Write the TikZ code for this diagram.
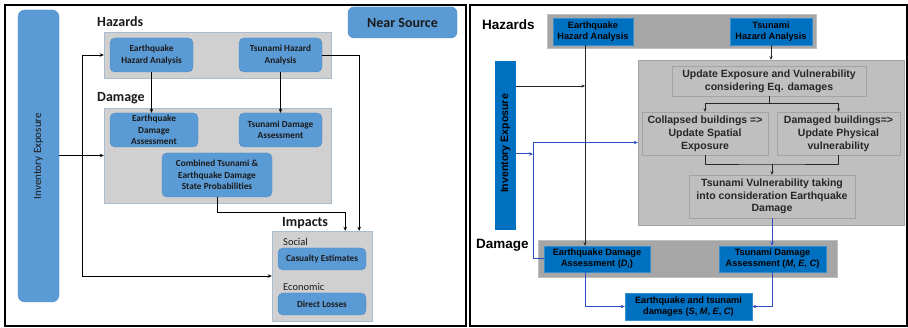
\documentclass[tikz,border=0pt]{standalone}
\usepackage{fontspec}
\setmainfont{Carlito}
\newfontfamily\arialf{Liberation Sans}
\usetikzlibrary{arrows.meta,calc}
\definecolor{lblue}{HTML}{5B9BD5}
\definecolor{lblueedge}{HTML}{4A88C6}
\definecolor{lgray}{HTML}{D0D0D0}
\definecolor{lgrayedge}{HTML}{A9BBCD}
\definecolor{rblue}{HTML}{0070C0}
\definecolor{rgrayA}{HTML}{A6A6A6}
\definecolor{rgrayB}{HTML}{BFBFBF}
\definecolor{rgrayedge}{HTML}{A3A3A3}
\definecolor{ltext}{HTML}{1A1A1A}
\definecolor{bline}{HTML}{2F4FC0}
\begin{document}
\begin{tikzpicture}[x=1pt,y=-1pt,
  lbluebox/.style={draw=lblueedge,fill=lblue,rounded corners=5pt,inner sep=1pt,align=center,text=ltext,
     font=\bfseries\fontsize{9.3}{11.5}\selectfont},
  lgraybox/.style={draw=lgrayedge,fill=lgray,inner sep=0pt},
  lhead/.style={anchor=west,inner sep=0pt,font=\bfseries\fontsize{14}{16}\selectfont,text=ltext},
  lsub/.style={anchor=west,inner sep=0pt,font=\fontsize{10.5}{12}\selectfont,text=ltext},
  larrow/.style={draw=black,line width=0.9pt,-{Stealth[length=4pt,width=3.5pt]}},
  lline/.style={draw=black,line width=0.9pt},
  rbluebox/.style={draw=rblue!80!white,fill=rblue,inner sep=1pt,align=center,text=black,
     font=\arialf\bfseries\fontsize{9.2}{11.2}\selectfont},
  rgraybox/.style={draw=rgrayedge,fill=rgrayB,inner sep=1pt,align=center,text=black!85,
     font=\arialf\bfseries\fontsize{10.5}{12.8}\selectfont},
  rhead/.style={anchor=west,inner sep=0pt,font=\arialf\bfseries\fontsize{13.5}{15}\selectfont},
  rarrow/.style={draw=black!85,line width=0.8pt,-{Stealth[length=3.5pt,width=3pt]}},
  rline/.style={draw=black!85,line width=0.8pt},
  barrow/.style={draw=bline,line width=1pt,-{Stealth[length=4pt,width=3.5pt]}},
  bline/.style={draw=bline,line width=1pt}
]
\useasboundingbox (0,0) rectangle (908,328);
\fill[white] (0,0) rectangle (908,328);
% ---------------- LEFT PANEL ----------------
\draw[line width=2pt] (5,5) rectangle (466,326);
\node[lbluebox,rounded corners=7pt,minimum width=41pt,minimum height=292pt] (inv1) at (38.5,156) {};
\node[rotate=90,text=ltext,font=\fontsize{11}{12}\selectfont] (inv1t) at (inv1.center) {Inventory Exposure};
\node[lbluebox,rounded corners=6pt,minimum width=109pt,minimum height=31pt,font=\bfseries\fontsize{14}{16}\selectfont] (near) at (402.5,22.5) {Near Source};
\node[lhead] (hz1) at (97,22) {Hazards};
\node[lgraybox,minimum width=227pt,minimum height=46pt] (hbox1) at (217.5,55) {};
\node[lbluebox,minimum width=83pt,minimum height=34pt] (eqh1) at (151.5,55) {Earthquake\\Hazard Analysis};
\node[lbluebox,minimum width=83pt,minimum height=34pt] (tsh1) at (280.5,55) {Tsunami Hazard\\Analysis};
\node[lhead] (dm1) at (97,98) {Damage};
\node[lgraybox,minimum width=227pt,minimum height=95pt] (dbox1) at (217.5,155.5) {};
\node[lbluebox,minimum width=88pt,minimum height=34pt,inner sep=0pt,font=\bfseries\fontsize{9.3}{11.5}\selectfont] (eqd1) at (154,130) {Earthquake\\Damage\\Assessment};
\node[lbluebox,minimum width=83pt,minimum height=34pt] (tsd1) at (280.5,130) {Tsunami Damage\\Assessment};
\node[lbluebox,minimum width=110pt,minimum height=44pt,font=\bfseries\fontsize{9.3}{11.5}\selectfont] (comb) at (217,175) {Combined Tsunami \&\\Earthquake Damage\\State Probabilities};
\node[lhead] (imt) at (282,223) {Impacts};
\node[lgraybox,minimum width=100pt,minimum height=90pt] (imp) at (322,276) {};
\node[lsub] (soc) at (283,242) {Social};
\node[lbluebox,minimum width=88pt,minimum height=22pt] (cas) at (322,259) {Casualty Estimates};
\node[lsub] (eco) at (283,287) {Economic};
\node[lbluebox,minimum width=88pt,minimum height=22pt] (dl) at (322,304) {Direct Losses};
% left connectors
\draw[larrow] (eqh1.south) -- (eqh1.south |- eqd1.north);
\draw[larrow] (tsh1.south) -- (tsh1.south |- tsd1.north);
\coordinate (c1) at ($(imp.north east)+(-13,0)$);
\draw[larrow] (tsh1.east) -| (c1);
\coordinate (c2) at ($(imp.north east)+(-27,0)$);
\draw[larrow] (comb.south) -- ++(0,15) -| (c2);
\draw[larrow] (inv1.east |- dbox1.west) -- (dbox1.west);
\coordinate (j1) at (82,155.5);
\draw[larrow] (j1) |- (hbox1.west);
\draw[larrow] (j1) |- (imp.west);
% ---------------- RIGHT PANEL ----------------
\draw[line width=2pt] (470,5) rectangle (907,326);
\node[rhead] (hz2) at (482,25) {Hazards};
\node[draw=rgrayB,fill=rgrayA,minimum width=269pt,minimum height=34pt,inner sep=0pt] (hbox2) at (681.5,31) {};
\node[rbluebox,minimum width=80pt,minimum height=27pt] (eqh2) at (593,31.5) {Earthquake\\Hazard Analysis};
\node[rbluebox,minimum width=82pt,minimum height=27pt] (tsh2) at (771,31.5) {Tsunami\\Hazard Analysis};
\node[fill=rblue,minimum width=21pt,minimum height=169pt,inner sep=0pt] (inv2) at (505.5,145.5) {};
\node[rotate=90,font=\arialf\bfseries\fontsize{10.6}{12}\selectfont] (inv2t) at (505.5,143.5) {Inventory Exposure};
\node[draw=rgrayedge,fill=rgrayB,minimum width=266pt,minimum height=165pt,inner sep=0pt] (big) at (771,142.5) {};
\node[rgraybox,minimum width=194pt,minimum height=30pt] (upd) at (769,81) {Update Exposure and Vulnerability\\considering Eq. damages};
\node[rgraybox,minimum width=126pt,minimum height=43pt] (col) at (705,133.5) {Collapsed buildings =>\\Update Spatial\\Exposure};
\node[rgraybox,minimum width=123pt,minimum height=43pt] (dmg) at (838.5,133.5) {Damaged buildings=>\\Update Physical\\vulnerability};
\node[rgraybox,minimum width=166pt,minimum height=43pt] (tv) at (772,196.5) {Tsunami Vulnerability taking\\into consideration Earthquake\\Damage};
\node[rhead] (dm2) at (476,245) {Damage};
\node[draw=rgrayB,fill=rgrayA,minimum width=299pt,minimum height=37pt,inner sep=0pt] (dbox2) at (687.5,258.5) {};
\node[rbluebox,minimum width=106pt,minimum height=26pt] (eqd2) at (597,259) {Earthquake Damage\\Assessment (\textit{D}\textsubscript{\textit{i}})};
\node[rbluebox,minimum width=107pt,minimum height=26pt] (tsd2) at (772.5,259) {Tsunami Damage\\Assessment (\textit{M}, \textit{E}, \textit{C})};
\node[rbluebox,minimum width=127pt,minimum height=27pt] (etd) at (688.5,306.5) {Earthquake and tsunami\\damages (\textit{S}, \textit{M}, \textit{E}, \textit{C})};
% right connectors
\coordinate (p1) at ($(eqh2.south)+(-8,0)$);
\draw[rarrow] (p1) -- (p1 |- eqd2.north);
\coordinate (p2) at (585,86);
\draw[rarrow] (inv2.east |- p2) -- (p2);
\draw[rarrow] (tsh2.south) -- (tsh2.south |- big.north);
\draw[rline] (upd.south) -- ++(0,7) coordinate (b1);
\draw[rarrow] (b1) -| (col.north);
\draw[rarrow] (b1) -| (dmg.north);
\coordinate (b2) at (772,164);
\draw[rline] (col.south) |- (b2) -| (dmg.south);
\draw[rarrow] (b2) -- (tv.north);
\draw[barrow] (tv.south) -- (tv.south |- tsd2.north);
\coordinate (q) at (533,154);
\draw[barrow] (inv2.east |- q) -- (q);
\draw[barrow] (eqd2.west) -| (big.west -| q) -- (big.west);
\draw[barrow] (p1 |- eqd2.south) |- (etd.west);
\draw[barrow] (tsd2.south) |- (etd.east);
\end{tikzpicture}
\end{document}
